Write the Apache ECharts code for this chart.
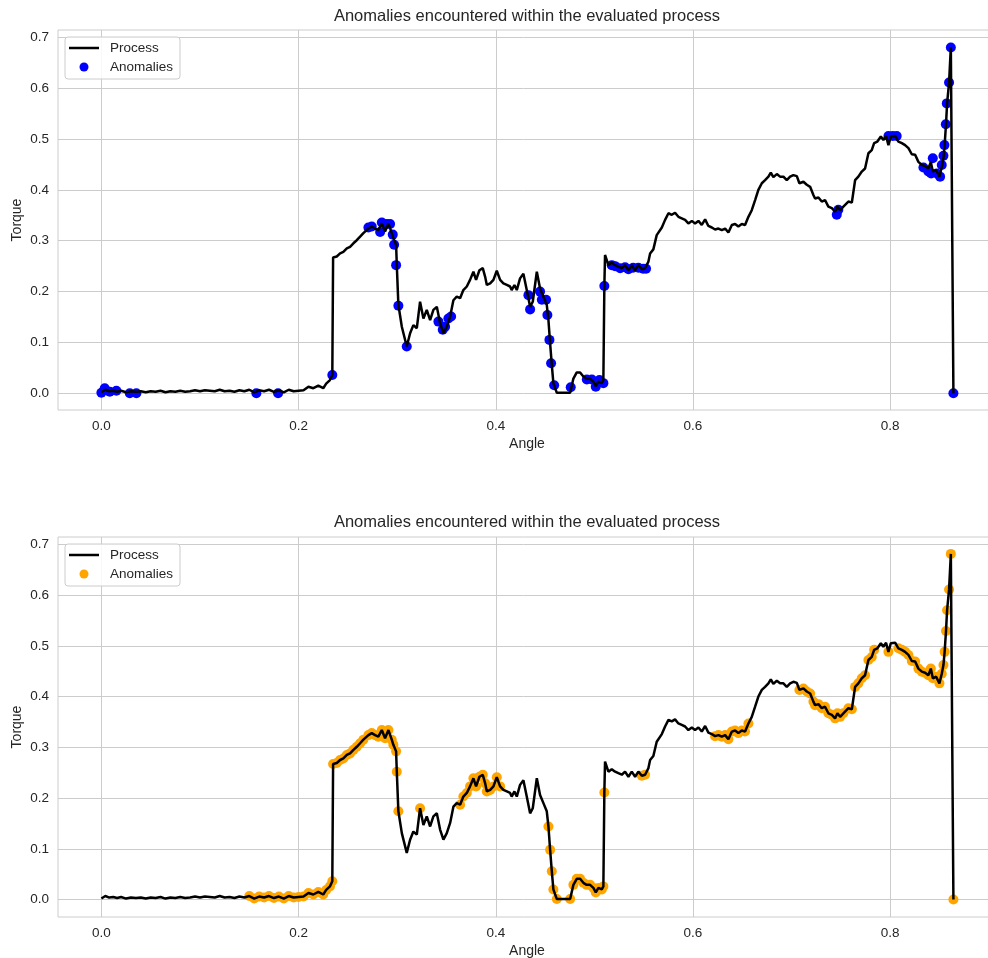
<!DOCTYPE html>
<html><head><meta charset="utf-8">
<script src="https://cdn.jsdelivr.net/npm/echarts@6/dist/echarts.min.js"></script>
<style>html,body{margin:0;padding:0;background:#fff}#c{width:988px;height:958px}</style>
</head><body><div id="c"></div><script>
// Process curve (Angle -> Torque)
const angle = [0.000,0.004,0.008,0.012,0.016,0.020,0.025,0.030,0.035,0.040,0.045,0.050,0.055,0.060,0.065,0.070,0.075,0.080,0.085,0.090,0.095,0.100,0.105,0.110,0.115,0.120,0.125,0.130,0.135,0.140,0.145,0.150,0.155,0.160,0.165,0.170,0.175,0.180,0.185,0.190,0.195,0.200,0.205,0.210,0.215,0.220,0.225,0.228,0.2318,0.2342,0.2350,
0.2387,0.2421,0.2454,0.2489,0.2522,0.2556,0.2590,0.2624,0.2657,0.2708,0.2742,0.2776,0.2809,0.2844,0.2877,0.2911,0.2945,0.2961,0.2989,0.2996,0.3012,0.3047,0.3097,0.3131,0.3164,0.3199,0.3232,0.3266,0.3300,0.3334,0.3367,0.3402,0.3435,0.3469,0.3503,0.3537,0.3570,0.3604,0.3638,0.3671,0.3706,0.3739,0.3773,0.3800,0.3834,0.3868,0.3892,0.3909,0.3943,
0.3976,0.4010,0.4044,0.4077,0.4112,0.4145,0.4161,0.4189,0.4213,0.4246,0.4280,0.4314,0.4348,0.4375,0.4416,0.4449,0.4483,0.4517,0.4534,0.4551,0.4568,0.4584,0.4619,0.4754,0.4787,0.4821,0.4855,0.4888,0.4922,0.4956,0.4990,0.5014,0.5041,0.5075,0.5091,0.5101,0.5108,0.5142,0.5176,0.5210,0.5243,0.5278,0.5311,0.5345,0.5379,0.5413,0.5446,0.5481,0.5514,0.5548,
0.5565,0.5598,0.5632,0.5684,0.5717,0.5751,0.5785,0.5818,0.5852,0.5886,0.5920,0.5953,0.5988,0.6021,0.6055,0.6089,0.6123,0.6156,0.6191,0.6224,0.6258,0.6292,0.6326,0.6359,0.6394,0.6427,0.6460,0.6495,0.6528,0.6562,0.6596,0.6630,0.6663,0.6698,0.6731,0.6765,0.6789,0.6815,0.6850,0.6883,0.6917,0.6951,0.6985,0.7018,0.7053,
0.7079,0.7120,0.7154,0.7188,0.7221,0.7238,0.7272,0.7306,0.7339,0.7373,0.7408,0.7441,0.7465,0.7492,0.7525,0.7576,0.7611,0.7644,0.7677,0.7712,0.7745,0.7779,0.7813,0.7837,0.7870,0.7905,0.7931,0.7958,0.7982,0.8006,0.8050,0.8083,0.8118,0.8151,0.8185,0.8219,0.8253,0.8286,0.8321,0.8354,0.8387,0.8412,0.8432,0.8466,0.8499,0.8523,0.8540,0.8552,0.8566,0.8577,0.8597,0.8615,0.8641];
const torque = [0.002,0.007,0.004,0.005,0.003,0.005,0.002,0.004,0.003,0.004,0.002,0.004,0.003,0.005,0.002,0.004,0.003,0.005,0.003,0.004,0.006,0.004,0.006,0.005,0.004,0.007,0.004,0.005,0.003,0.006,0.004,0.007,0.002,0.006,0.004,0.007,0.003,0.006,0.002,0.007,0.004,0.005,0.006,0.013,0.010,0.015,0.010,0.019,0.026,0.036,0.267,
0.269,0.275,0.278,0.285,0.288,0.295,0.301,0.308,0.315,0.324,0.328,0.324,0.321,0.334,0.318,0.334,0.315,0.305,0.292,0.252,0.174,0.131,0.092,0.118,0.134,0.128,0.180,0.147,0.164,0.144,0.164,0.170,0.138,0.118,0.131,0.151,0.183,0.190,0.187,0.203,0.210,0.223,0.239,0.223,0.242,0.246,0.229,0.213,0.216,
0.223,0.241,0.223,0.216,0.213,0.210,0.203,0.213,0.203,0.226,0.235,0.203,0.170,0.180,0.239,0.206,0.190,0.174,0.144,0.098,0.056,0.020,0.001,0.001,0.029,0.041,0.041,0.033,0.029,0.029,0.023,0.014,0.023,0.020,0.026,0.211,0.272,0.252,0.257,0.252,0.249,0.246,0.252,0.242,0.252,0.242,0.252,0.244,0.246,0.259,
0.275,0.283,0.311,0.326,0.341,0.354,0.351,0.355,0.347,0.344,0.341,0.334,0.339,0.334,0.339,0.331,0.342,0.329,0.326,0.322,0.324,0.321,0.324,0.316,0.331,0.333,0.328,0.333,0.331,0.347,0.360,0.380,0.400,0.413,0.419,0.426,0.434,0.425,0.431,0.426,0.426,0.419,0.426,0.429,0.427,
0.413,0.416,0.410,0.406,0.390,0.383,0.385,0.377,0.380,0.367,0.364,0.357,0.367,0.360,0.367,0.377,0.375,0.419,0.426,0.436,0.442,0.472,0.478,0.492,0.495,0.505,0.498,0.506,0.488,0.505,0.506,0.495,0.492,0.488,0.482,0.470,0.469,0.455,0.449,0.447,0.442,0.455,0.436,0.439,0.426,0.445,0.462,0.488,0.529,0.570,0.611,0.681,0.000];

// Anomalies found by the first method (top panel)
const topAnomAngle = [0.000,0.0034,0.0085,0.0152,0.0288,0.0355,0.1572,0.1792,0.2342,0.2708,0.2742,0.2827,0.2844,0.2894,0.2928,0.2955,0.2969,0.2989,0.3012,0.3097,0.3418,0.3462,0.3486,0.3519,0.3547,0.4331,0.4348,0.4449,0.4467,0.4510,0.4523,0.4544,0.4561,0.4592,0.4760,0.4923,0.4974,0.5014,0.5051,0.5091,0.5101,0.5176,0.5210,0.5261,0.5311,0.5345,0.5393,0.5446,0.5494,0.5524,0.7458,0.7474,0.7982,0.8026,0.8066,0.8337,0.8387,0.8415,0.8432,0.8473,0.8506,0.8523,0.8540,0.8550,0.8564,0.8574,0.8597,0.8615,0.8641];
const topAnomTorque = [0.001,0.010,0.003,0.005,0.000,0.000,0.000,0.000,0.036,0.326,0.328,0.317,0.336,0.333,0.333,0.312,0.292,0.252,0.172,0.092,0.141,0.125,0.131,0.147,0.151,0.193,0.165,0.200,0.184,0.184,0.154,0.105,0.059,0.016,0.012,0.027,0.027,0.013,0.026,0.020,0.211,0.252,0.250,0.246,0.248,0.244,0.247,0.247,0.245,0.245,0.351,0.361,0.506,0.506,0.506,0.444,0.436,0.432,0.462,0.432,0.426,0.449,0.467,0.488,0.529,0.570,0.611,0.680,0.000];

// Anomalies found by the second method (bottom panel): angle windows of flagged process samples
const bottomAnomRanges = [[0.147,0.3015],[0.3230,0.3235],[0.362,0.4045],[0.453,0.5102],[0.5475,0.5525],[0.620,0.658],[0.7075,0.7850],[0.7980,0.7985],[0.8080,0.8650]];

const xTicks = [0.0,0.2,0.4,0.6,0.8];
const yTicks = [0.0,0.1,0.2,0.3,0.4,0.5,0.6,0.7];
const titleText = 'Anomalies encountered within the evaluated process';

const processData = angle.map((a,i)=>[a,torque[i]]);
const topAnom = topAnomAngle.map((a,i)=>[a,topAnomTorque[i]]);
const bottomAnom = processData.filter(p=>bottomAnomRanges.some(r=>p[0]>=r[0]&&p[0]<=r[1]));

const TXT = '#262626', GRID = '#cccccc', FONT = 'Liberation Sans, Arial, sans-serif';
// horizontal line glyph for the legend (corner points keep the path box at full icon size)
const LINE_ICON = 'path://M0,0L0.01,0M30,9L29.99,9M0,3.3L30,3.3L30,5.7L0,5.7Z';

function xAx(gi){return {type:'value',gridIndex:gi,min:-0.044,max:0.9073,
  name:'Angle',nameLocation:'middle',nameGap:27,nameTextStyle:{fontSize:14,color:TXT,fontFamily:FONT},
  axisLine:{show:false},axisTick:{show:false,customValues:xTicks},
  axisLabel:{customValues:xTicks,formatter:v=>v.toFixed(1),fontSize:13.5,color:TXT,margin:9,fontFamily:FONT},
  splitLine:{show:true,lineStyle:{color:GRID,width:1}}};}
function yAx(gi,mn){return {type:'value',gridIndex:gi,min:mn,max:0.7143,
  name:'Torque',nameLocation:'middle',nameGap:41,nameMoveOverlap:false,nameTextStyle:{fontSize:14,color:TXT,fontFamily:FONT,verticalAlign:'middle'},
  axisLine:{show:false},axisTick:{show:false,customValues:yTicks},
  axisLabel:{customValues:yTicks,formatter:v=>v.toFixed(1),fontSize:13.5,color:TXT,margin:9,fontFamily:FONT},
  splitLine:{show:true,lineStyle:{color:GRID,width:1}}};}
function leg(top,color){return {orient:'vertical',left:65,top:top,padding:[4,7,5,4],itemGap:5,itemWidth:30,itemHeight:9,
  selectedMode:false,borderColor:GRID,borderWidth:1,borderRadius:3,backgroundColor:'rgba(255,255,255,0.85)',
  textStyle:{fontSize:13.5,color:TXT,fontFamily:FONT,padding:[0,0,0,6]},
  data:[{name:'Process',icon:LINE_ICON,itemStyle:{color:'#000',borderWidth:0}},
        {name:'Anomalies',icon:'circle',itemStyle:{color:color,borderWidth:0}}]};}

const chart = echarts.init(document.getElementById('c'),null,{renderer:'canvas'});
chart.setOption({
  animation:false,
  backgroundColor:'#ffffff',
  textStyle:{fontFamily:FONT},
  title:[
    {text:titleText,left:527,top:8,textAlign:'center',padding:0,textStyle:{fontSize:16.5,fontWeight:'normal',color:TXT,fontFamily:FONT}},
    {text:titleText,left:527,top:514,textAlign:'center',padding:0,textStyle:{fontSize:16.5,fontWeight:'normal',color:TXT,fontFamily:FONT}}
  ],
  legend:[leg(37,'#0000ff'),leg(544,'#ffa500')],
  grid:[
    {left:58,top:30,width:938,height:380,show:true,borderColor:GRID,borderWidth:1,backgroundColor:'#fff',containLabel:false,outerBoundsMode:'none'},
    {left:58,top:537,width:938,height:380,show:true,borderColor:GRID,borderWidth:1,backgroundColor:'#fff',containLabel:false,outerBoundsMode:'none'}
  ],
  xAxis:[xAx(0),xAx(1)],
  yAxis:[yAx(0,-0.0328),yAx(1,-0.0343)],
  series:[
    {name:'Anomalies',type:'scatter',xAxisIndex:0,yAxisIndex:0,data:topAnom,symbolSize:10,itemStyle:{color:'#0000ff',opacity:1},z:2},
    {name:'Process',type:'line',xAxisIndex:0,yAxisIndex:0,data:processData,symbol:'none',showSymbol:false,lineStyle:{color:'#000',width:2.5},itemStyle:{color:'#000'},z:3},
    {name:'Anomalies',type:'scatter',xAxisIndex:1,yAxisIndex:1,data:bottomAnom,symbolSize:10,itemStyle:{color:'#ffa500',opacity:1},z:2},
    {name:'Process',type:'line',xAxisIndex:1,yAxisIndex:1,data:processData,symbol:'none',showSymbol:false,lineStyle:{color:'#000',width:2.5},itemStyle:{color:'#000'},z:3}
  ]
});
</script></body></html>
